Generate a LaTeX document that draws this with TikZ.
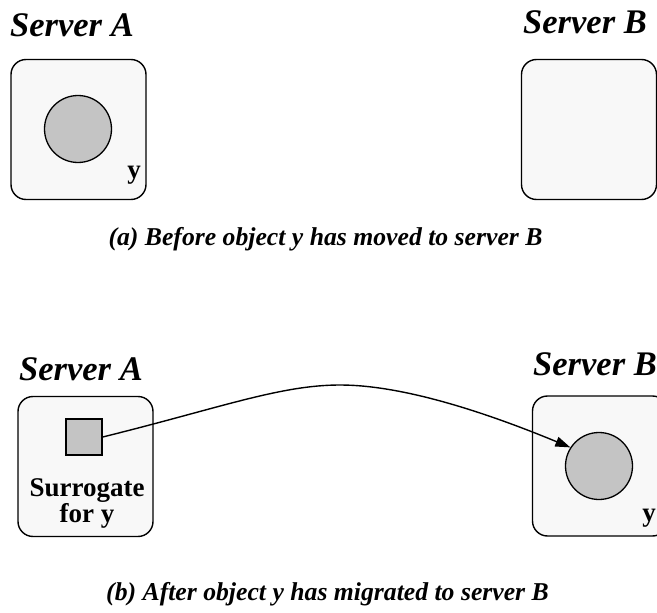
\documentclass[tikz,border=0pt]{standalone}
\usepackage{fontspec}
\setmainfont{Liberation Serif}
\usetikzlibrary{arrows.meta}
\definecolor{boxfill}{HTML}{F8F8F8}
\definecolor{objfill}{HTML}{C4C4C4}
\tikzset{
  server/.style={draw=black, line width=1.4pt, fill=boxfill, rounded corners=15pt, minimum width=135pt, minimum height=140pt, inner sep=0pt},
  obj/.style={draw=black, line width=1.3pt, fill=objfill, circle, minimum size=67pt, inner sep=0pt},
  surr/.style={draw=black, line width=1.3pt, fill=objfill, rectangle, minimum size=36pt, inner sep=0pt},
  title/.style={font=\fontsize{34.5}{34.5}\selectfont\bfseries\itshape, anchor=base, inner sep=0pt},
  caption/.style={font=\fontsize{25.7}{25.7}\selectfont\bfseries\itshape, anchor=base, inner sep=0pt},
  lbl/.style={font=\fontsize{27}{27}\selectfont\bfseries, anchor=base, inner sep=0pt, align=center},
  link/.style={line width=1.4pt, -{Triangle[length=15pt,width=10pt]}}
}
\begin{document}
\begin{tikzpicture}[x=1pt,y=-1pt]
\clip (0,0) rectangle (657,613);
\fill[white] (0,0) rectangle (657,613);
% (a)
\node[title] (tA1) at (72,36) {Server A};
\node[title] (tB1) at (585,33) {Server B};
\node[server] (sA1) at (78.5,129.5) {};
\node[server] (sB1) at (589,129.5) {};
\node[obj] (oA1) at (78,129) {};
\node[lbl] (yA1) at (134,178) {y};
\node[caption] (capA) at (325.5,245) {(a) Before object y has moved to server B};
% (b)
\node[title] (tA2) at (81,380) {Server A};
\node[title] (tB2) at (595,375) {Server B};
\node[server] (sA2) at (85.5,466.5) {};
\node[server] (sB2) at (600,466) {};
\node[surr] (sq) at (84,437) {};
\node[lbl] (sl) at (87,522) {Surrogate\\[-1pt]for y};
\node[obj] (oB2) at (599,466) {};
\node[lbl] (yB2) at (649,521) {y};
\coordinate (peak) at (340,385);
\draw[link] (sq.east) .. controls (220,408) and (280,385) .. (peak)
  .. controls (400,385) and (480,410) .. (oB2.147);
\node[caption] (capB) at (327.5,600) {(b) After object y has migrated to server B};
\end{tikzpicture}
\end{document}
